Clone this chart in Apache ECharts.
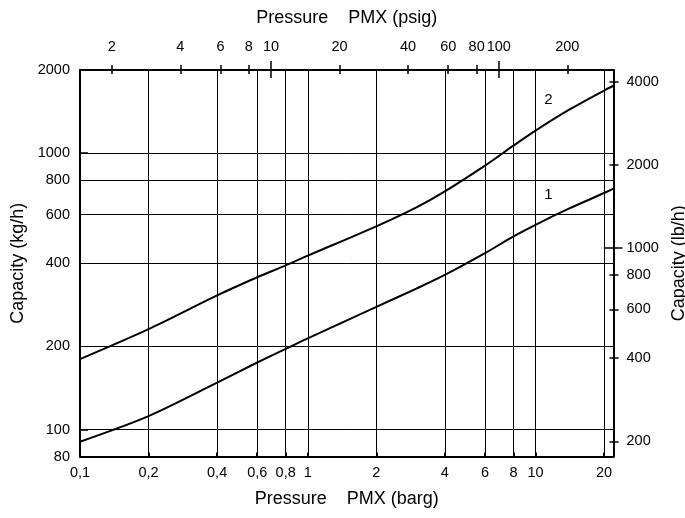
<!DOCTYPE html>
<html lang="en">
<head>
    <meta charset="UTF-8">
    <script src="https://cdn.jsdelivr.net/npm/echarts@6.0.0/dist/echarts.min.js"></script>
    <style>
        html, body { margin: 0; padding: 0; background: #fff; }
        #chart { width: 685px; height: 518px; }
    </style>
</head>
<body>
<div id="chart"></div>
<script>
    // pressure in barg
    var pressure = [0.1, 0.2, 0.4, 0.6, 0.8, 1, 2, 3, 4, 6, 8, 10, 14, 20, 22];
    // capacity kg/h, curve 1 (lower) and curve 2 (upper)
    var capacity1 = [90.5, 112, 148, 175, 196, 214, 278, 324, 363, 435, 500, 551, 630, 718, 745];
    var capacity2 = [180, 231, 306, 356, 393, 426, 544, 637, 728, 902, 1065, 1207, 1434, 1686, 1754];

    // curve numbers
    var tagNames = ['1', '2'];
    var tagPressure = [11.4, 11.4];
    var tagCapacity = [708, 1564];

    // tick / label values
    var bargLabels = [0.1, 0.2, 0.4, 0.6, 0.8, 1, 2, 4, 6, 8, 10, 20];
    var bargGrid = [0.2, 0.4, 0.6, 0.8, 1, 2, 4, 6, 8, 10, 20];
    var psigLabels = [2, 4, 6, 8, 10, 20, 40, 60, 80, 100, 200];
    var psigMinor = [2, 4, 6, 8, 20, 40, 60, 80, 200];
    var psigMajor = [10, 100];
    var kgLabels = [80, 100, 200, 400, 600, 800, 1000, 2000];
    var kgGrid = [100, 200, 400, 600, 800, 1000];
    var kgTicks = [100, 1000];
    var lbLabels = [200, 400, 600, 800, 1000, 2000, 4000];
    var lbMinor = [200, 400, 600, 800, 2000, 4000];
    var lbMajor = [1000];

    var BAR_MIN = 0.1, BAR_MAX = 22;
    var KG_MIN = 80, KG_MAX = 2000;
    var PSI = 14.5038, LB = 2.20462;

    var FONT = 'Liberation Sans';
    var black = '#000';
    var labelStyle = { color: black, fontFamily: FONT, fontSize: 14.5 };
    var nameStyle = { color: black, fontFamily: FONT, fontSize: 18 };

    function plain(v) {
        return String(+(+v).toPrecision(3));
    }

    // blank extra axis, only used for tick marks
    function tickAxis(pos, min, max, vals, inside, len) {
        return {
            type: 'log', logBase: 10, position: pos, min: min, max: max,
            axisLine: { show: false },
            axisLabel: { show: false },
            splitLine: { show: false },
            axisTick: { show: true, inside: inside, length: len, customValues: vals,
                lineStyle: { color: black, width: 1.5 } }
        };
    }

    var chart = echarts.init(document.getElementById('chart'), null, { renderer: 'canvas' });

    var option = {
        animation: false,
        backgroundColor: '#fff',
        grid: { left: 80, right: 71.5, top: 70, bottom: 61.5, containLabel: false, outerBoundsMode: 'none' },
        xAxis: [
            {
                type: 'log', logBase: 10, position: 'bottom', min: BAR_MIN, max: BAR_MAX,
                name: 'Pressure    PMX (barg)', nameLocation: 'middle', nameGap: 34,
                nameTextStyle: nameStyle,
                axisLine: { show: true, lineStyle: { color: black, width: 2 } },
                axisTick: { show: true, inside: true, length: 4, customValues: bargGrid,
                    lineStyle: { color: black, width: 2 } },
                axisLabel: Object.assign({ margin: 9, customValues: bargLabels,
                    formatter: function (v) { return plain(v).replace('.', ','); } }, labelStyle),
                splitLine: { show: true, lineStyle: { color: black, width: 1 } }
            },
            {
                type: 'log', logBase: 10, position: 'top', min: BAR_MIN * PSI, max: BAR_MAX * PSI,
                name: 'Pressure    PMX (psig)', nameLocation: 'middle', nameGap: 43,
                nameTextStyle: nameStyle,
                axisLine: { show: true, lineStyle: { color: black, width: 2 } },
                axisTick: { show: true, inside: false, length: 5, customValues: psigMinor,
                    lineStyle: { color: black, width: 1.5 } },
                axisLabel: Object.assign({ margin: 16, customValues: psigLabels, formatter: plain }, labelStyle),
                splitLine: { show: false }
            },
            tickAxis('top', BAR_MIN * PSI, BAR_MAX * PSI, psigMinor, true, 4),
            tickAxis('top', BAR_MIN * PSI, BAR_MAX * PSI, psigMajor, false, 9),
            tickAxis('top', BAR_MIN * PSI, BAR_MAX * PSI, psigMajor, true, 8)
        ],
        yAxis: [
            {
                type: 'log', logBase: 10, position: 'left', min: KG_MIN, max: KG_MAX,
                name: 'Capacity (kg/h)', nameLocation: 'middle', nameGap: 52, nameRotate: 90,
                nameTextStyle: nameStyle,
                axisLine: { show: true, lineStyle: { color: black, width: 2 } },
                axisTick: { show: false, customValues: kgGrid },
                axisLabel: Object.assign({ margin: 10, customValues: kgLabels, formatter: plain }, labelStyle),
                splitLine: { show: true, lineStyle: { color: black, width: 1 } }
            },
            {
                type: 'log', logBase: 10, position: 'right', min: KG_MIN * LB, max: KG_MAX * LB,
                name: 'Capacity (lb/h)', nameLocation: 'middle', nameGap: 48, nameRotate: 90,
                nameTextStyle: nameStyle,
                axisLine: { show: true, lineStyle: { color: black, width: 2 } },
                axisTick: { show: true, inside: false, length: 5, customValues: lbMinor,
                    lineStyle: { color: black, width: 1.5 } },
                axisLabel: Object.assign({ margin: 13, customValues: lbLabels, formatter: plain }, labelStyle),
                splitLine: { show: false }
            },
            tickAxis('right', KG_MIN * LB, KG_MAX * LB, lbMinor, true, 4),
            tickAxis('right', KG_MIN * LB, KG_MAX * LB, lbMajor, false, 9),
            tickAxis('right', KG_MIN * LB, KG_MAX * LB, lbMajor, true, 9),
            tickAxis('left', KG_MIN, KG_MAX, kgTicks, true, 8)
        ],
        series: [
            {
                type: 'line', name: '1', xAxisIndex: 0, yAxisIndex: 0,
                data: pressure.map(function (p, i) { return [p, capacity1[i]]; }),
                showSymbol: false, smooth: 0.3,
                lineStyle: { color: black, width: 2 }
            },
            {
                type: 'line', name: '2', xAxisIndex: 0, yAxisIndex: 0,
                data: pressure.map(function (p, i) { return [p, capacity2[i]]; }),
                showSymbol: false, smooth: 0.3,
                lineStyle: { color: black, width: 2 }
            },
            {
                type: 'scatter', xAxisIndex: 0, yAxisIndex: 0, symbolSize: 0,
                itemStyle: { opacity: 1 },
                data: tagNames.map(function (t, i) { return { name: t, value: [tagPressure[i], tagCapacity[i]] }; }),
                label: Object.assign({ show: true, position: 'inside', formatter: '{b}', textBorderWidth: 0 },
                    labelStyle, { fontSize: 15 })
            }
        ]
    };
    chart.setOption(option);
</script>
</body>
</html>
